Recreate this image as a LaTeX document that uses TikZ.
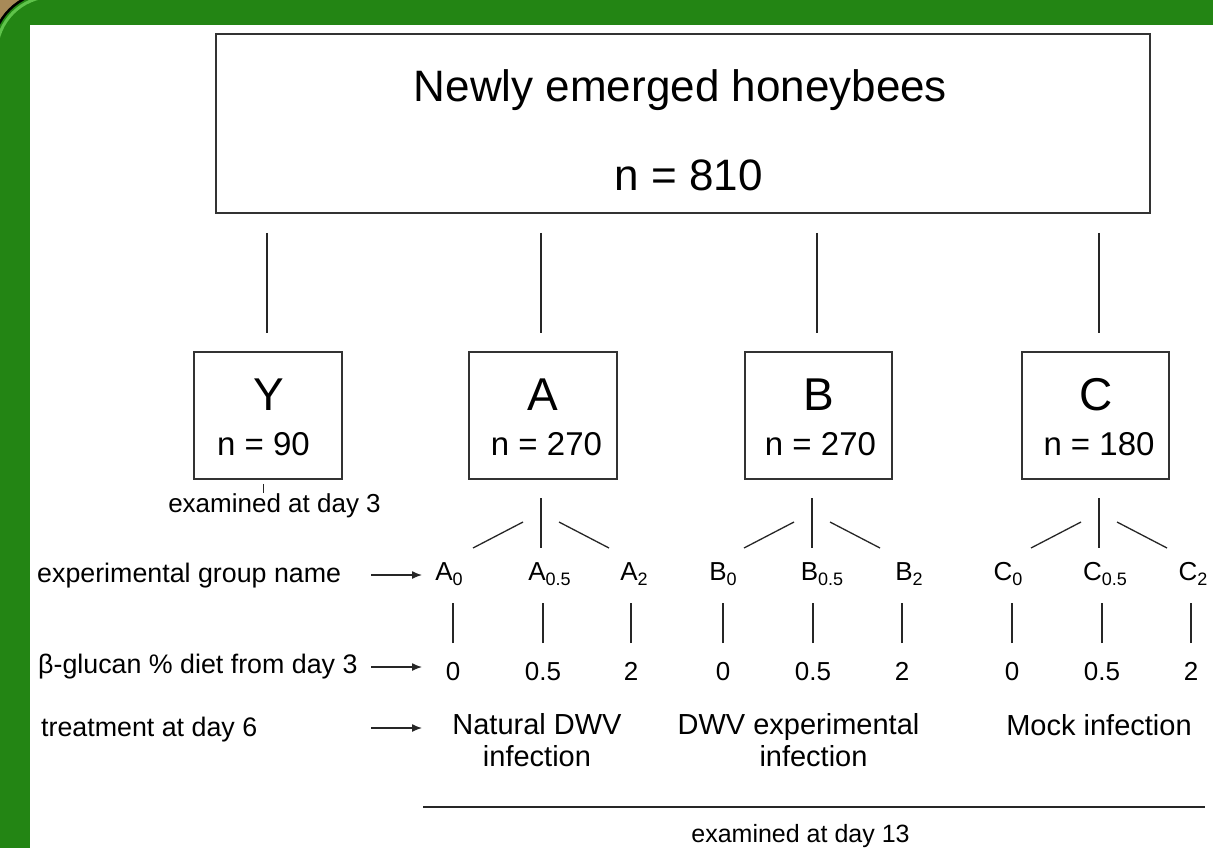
\documentclass[tikz,border=0pt]{standalone}
\usepackage{fontspec}
\setmainfont{Liberation Sans}
\usetikzlibrary{arrows.meta}
\definecolor{frameGreen}{RGB}{35,133,20}
\definecolor{frameLight}{RGB}{95,195,75}
\definecolor{frameTan}{RGB}{168,138,88}
\newcommand{\grpname}[2]{#1\raisebox{-5pt}{\fontsize{18}{18}\selectfont #2}}
\begin{document}
\begin{tikzpicture}[x=1pt,y=-1pt,
  box/.style={draw=black!80, line width=1.8pt, fill=white, inner sep=0pt},
  conn/.style={draw=black!85, line width=1.3pt},
  arr/.style={conn, -{Latex[length=10pt,width=8pt]}},
  txt/.style={inner sep=0pt, anchor=base},
  ftitle/.style={font=\fontsize{44}{48}\selectfont},
  fbig/.style={font=\fontsize{46}{50}\selectfont},
  fnum/.style={font=\fontsize{33}{36}\selectfont},
  ftreat/.style={font=\fontsize{29}{32}\selectfont},
  flab/.style={font=\fontsize{26}{30}\selectfont},
  fleft/.style={font=\fontsize{26.8}{30}\selectfont},
  fsmall/.style={font=\fontsize{25}{28}\selectfont}
]
\useasboundingbox (0,0) rectangle (1213,847);
% frame
\fill[frameTan] (-5,-5) rectangle (1220,860);
\fill[frameGreen, rounded corners=60pt] (-8,-8) rectangle (1260,900);
\draw[black, line width=2.5pt, rounded corners=60pt] (-8,-8) rectangle (1260,900);
\draw[frameLight, line width=3pt, rounded corners=56pt] (-3.5,-3.5) rectangle (1260,900);
\fill[white] (30,25) rectangle (1225,860);

% top box
\node[box, minimum width=934pt, minimum height=179pt] (top) at (683,123.5) {};
\node[txt, ftitle] (t1) at (680.5,101) {Newly emerged honeybees};
\node[txt, ftitle] (t2) at (688.5,190) {n = 810};

% child boxes
\node[box, minimum width=148pt, minimum height=127pt] (Y) at (268,415.5) {};
\node[box, minimum width=148pt, minimum height=127pt] (A) at (543,415.5) {};
\node[box, minimum width=147pt, minimum height=127pt] (B) at (818.5,415.5) {};
\node[box, minimum width=147pt, minimum height=127pt] (C) at (1095.5,415.5) {};

\node[txt, fbig] (Yl) at (268.5,410) {Y};
\node[txt, fnum] (Yn) at (263.5,455) {n = 90};
\node[txt, fbig] (Al) at (543,410) {A};
\node[txt, fnum] (An) at (546.5,455) {n = 270};
\node[txt, fbig] (Bl) at (819,410) {B};
\node[txt, fnum] (Bn) at (820.5,455) {n = 270};
\node[txt, fbig] (Cl) at (1096,410) {C};
\node[txt, fnum] (Cn) at (1099,455) {n = 180};

\foreach \c/\dx in {Y/-1,A/-2,B/-1.5,C/3.5}
  \draw[conn, shorten <=19pt, shorten >=18pt] ([xshift=\dx pt]top.south -| \c.north) -- ([xshift=\dx pt]\c.north);

% Y examined
\draw[conn, line width=1pt] ([xshift=-5pt]Y.south) ++(0,4) -- ++(0,9);
\node[txt, flab] (ex3) at (274.5,512) {examined at day 3};

% fans
\coordinate (fA) at (541,498);
\coordinate (fB) at (812,498);
\coordinate (fC) at (1099,498);
\foreach \f in {fA,fB,fC} {
  \draw[conn] (\f) -- ++(0,50);
  \draw[conn] ([shift={(-18,24)}]\f) -- ++(-50,26);
  \draw[conn] ([shift={(18,24)}]\f) -- ++(50,26);
}

% group labels and doses
\foreach \n/\g/\s/\lx/\vx/\num in {
  A0/A/0/449/453/0, A05/A/0.5/549.5/543/0.5, A2/A/2/634/631/2,
  B0/B/0/723/723/0, B05/B/0.5/822/813/0.5, B2/B/2/909/902/2,
  C0/C/0/1008/1012/0, C05/C/0.5/1105/1102/0.5, C2/C/2/1193/1191/2} {
  \node[txt, flab] (g\n) at (\lx,580) {\grpname{\g}{\s}};
  \node[txt, flab] (n\n) at (\vx,680) {\num};
  \draw[conn] (n\n.base) ++(0,-37) -- ++(0,-40);
}

% left labels
\node[txt, anchor=base west, fleft] (l1) at (37,582) {experimental group name};
\node[txt, anchor=base west, fleft] (l2) at (38,673) {β-glucan \% diet from day 3};
\node[txt, anchor=base west, fleft] (l3) at (41,736) {treatment at day 6};
\coordinate (a1s) at (371,575); \coordinate (a1e) at (422,575);
\coordinate (a2s) at (371,667); \coordinate (a2e) at (422,667);
\coordinate (a3s) at (371,728); \coordinate (a3e) at (422,728);
\draw[arr] (a1s) -- (a1e);
\draw[arr] (a2s) -- (a2e);
\draw[arr] (a3s) -- (a3e);

% treatments
\node[ftreat, align=center, inner sep=0pt] (tA) at (537,740.5) {Natural DWV\\infection};
\node[ftreat, align=center, inner sep=0pt] (tB) at (798.5,740.5) {DWV experimental\\\hspace*{30pt}infection};
\node[txt, ftreat] (tC) at (1099,735) {Mock infection};

% bottom
\coordinate (b1) at (423,807);
\coordinate (b2) at (1205,807);
\draw[conn] (b1) -- (b2);
\node[txt, fsmall] (ex13) at (800.5,842) {examined at day 13};
\end{tikzpicture}
\end{document}
